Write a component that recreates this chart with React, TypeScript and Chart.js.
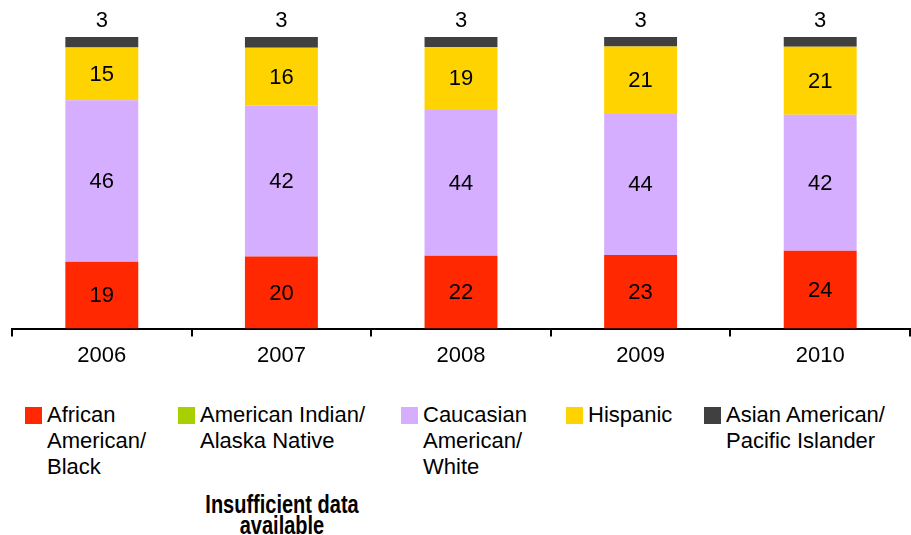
import React, { useEffect, useRef } from "react";
import { Chart, registerables } from "chart.js";

Chart.register(...registerables);

const years = ["2006", "2007", "2008", "2009", "2010"];
const africanAmerican = [19, 20, 22, 23, 24];
const americanIndian: (number | null)[] = [null, null, null, null, null];
const caucasian = [46, 42, 44, 44, 42];
const hispanic = [15, 16, 19, 21, 21];
const asianAmerican = [3, 3, 3, 3, 3];

const seriesNames = [
  "African American/Black",
  "American Indian/Alaska Native",
  "Caucasian American/White",
  "Hispanic",
  "Asian American/Pacific Islander",
];
const seriesColors = ["#FF2800", "#A8D000", "#D6AEFF", "#FFD300", "#404040"];

const FONT = "'Liberation Sans', Arial, Helvetica, sans-serif";

const allSeries = [africanAmerican, americanIndian, caucasian, hispanic, asianAmerican];

// Each bar is scaled to the full column height (share of the reported total).
const totals = years.map((_, i) =>
  allSeries.reduce((s, arr) => s + (arr[i] ?? 0), 0)
);
const share = (arr: (number | null)[]) =>
  arr.map((v, i) => (v == null ? null : (v / totals[i]) * 100));

const valueLabels = {
  id: "valueLabels",
  afterDatasetsDraw(chart: any) {
    const ctx = chart.ctx;
    ctx.save();
    ctx.font = `22px ${FONT}`;
    ctx.fillStyle = "#000";
    ctx.textAlign = "center";
    ctx.textBaseline = "middle";
    chart.data.datasets.forEach((ds: any, di: number) => {
      const meta = chart.getDatasetMeta(di);
      const raw = allSeries[di];
      meta.data.forEach((bar: any, i: number) => {
        const v = raw[i];
        if (v == null) return;
        const { x, y, base } = bar.getProps(["x", "y", "base"], true);
        if (di === allSeries.length - 1) {
          ctx.fillText(String(v), x, y - 16);
        } else {
          ctx.fillText(String(v), x, (y + base) / 2 + 1);
        }
      });
    });
    ctx.restore();
  },
};

const legendLefts = [25, 178, 401, 566, 704];
const legendLines = [
  ["African", "American/", "Black"],
  ["American Indian/", "Alaska Native"],
  ["Caucasian", "American/", "White"],
  ["Hispanic"],
  ["Asian American/", "Pacific Islander"],
];

export default function App() {
  const canvasRef = useRef<HTMLCanvasElement>(null);

  useEffect(() => {
    const chart = new Chart(canvasRef.current!, {
      type: "bar",
      data: {
        labels: years,
        datasets: allSeries.map((arr, i) => ({
          label: seriesNames[i],
          data: share(arr),
          backgroundColor: seriesColors[i],
          borderWidth: 0,
          categoryPercentage: 1,
          barPercentage: 0.406,
        })),
      },
      options: {
        responsive: false,
        animation: false,
        layout: { padding: { top: 37, left: 12, right: 1, bottom: 0 } },
        plugins: {
          legend: { display: false },
          tooltip: { enabled: false },
        },
        scales: {
          x: {
            stacked: true,
            grid: {
              display: true,
              offset: true,
              drawOnChartArea: false,
              drawTicks: true,
              tickLength: 8,
              color: "#000",
              lineWidth: 2,
            },
            border: { display: true, color: "#000", width: 2 },
            ticks: {
              color: "#000",
              font: { family: FONT, size: 22 },
              padding: 6,
            },
          },
          y: {
            stacked: true,
            display: false,
            min: 0,
            max: 100,
          },
        },
      },
      plugins: [valueLabels],
    });
    return () => chart.destroy();
  }, []);

  return (
    <div
      style={{
        position: "absolute",
        left: 0,
        top: 0,
        width: 911,
        height: 535,
        background: "#fff",
        fontFamily: FONT,
        overflow: "hidden",
      }}
    >
      <canvas
        ref={canvasRef}
        width={911}
        height={375}
        style={{ position: "absolute", left: 0, top: 0, width: 911, height: 375 }}
      />
      {legendLines.map((lines, i) => (
        <div key={i}>
          <div
            style={{
              position: "absolute",
              left: legendLefts[i],
              top: 407,
              width: 17,
              height: 17,
              background: seriesColors[i],
            }}
          />
          <div
            style={{
              position: "absolute",
              left: legendLefts[i] + 22,
              top: 402,
              fontSize: 22,
              lineHeight: "26px",
              color: "#000",
              whiteSpace: "nowrap",
            }}
          >
            {lines.map((l, j) => (
              <div key={j}>{l}</div>
            ))}
          </div>
        </div>
      ))}
      <div
        style={{
          position: "absolute",
          left: 131.5,
          width: 300,
          top: 494,
          textAlign: "center",
          fontFamily: FONT,
          fontWeight: "bold",
          fontSize: 25,
          lineHeight: "21px",
          color: "#000",
          transform: "scaleX(0.8)",
          transformOrigin: "center",
        }}
      >
        <div>Insufficient data</div>
        <div>available</div>
      </div>
    </div>
  );
}
